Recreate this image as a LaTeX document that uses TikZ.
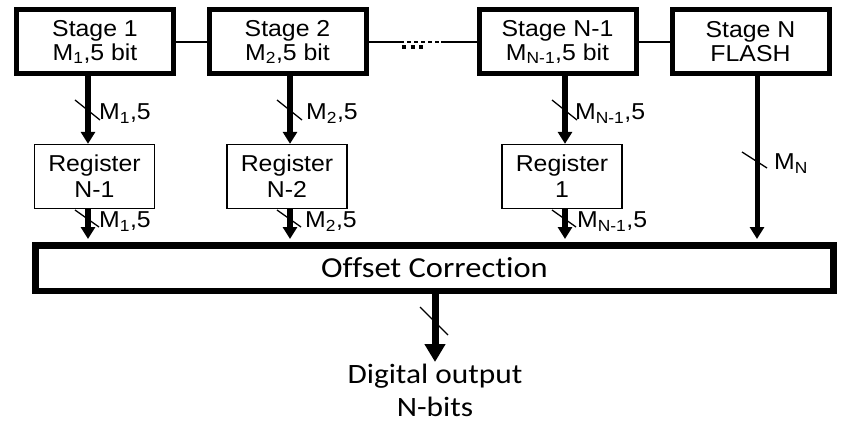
\documentclass[tikz,border=0pt]{standalone}
\usepackage{fontspec}
\setmainfont{Liberation Sans}[FakeStretch=1.08]
\newfontfamily\calfont{Carlito}[FakeStretch=1.12,Ligatures=NoCommon]
\usetikzlibrary{arrows.meta}

\begin{document}
\begin{tikzpicture}[x=1pt,y=-1pt,font=\fontsize{23}{24}\selectfont,
	stagebox/.style={draw,line width=5pt,minimum width=157pt,minimum height=64pt,align=center,inner sep=0pt},
	regbox/.style={draw,line width=1.3pt,minimum width=120pt,minimum height=64pt,align=center,inner sep=0pt,font=\fontsize{23}{26}\selectfont},
	bus/.style={line width=5.5pt,-{Triangle[width=14pt,length=12pt]}},
	tick/.style={line width=1.3pt},
	lbl/.style={anchor=base west,inner sep=0pt}]
	\useasboundingbox (0,0) rectangle (842,438);
	% pipeline stages
	\node[stagebox] (s1) at (95,42) {Stage 1\\M\textsubscript{1},5 bit};
	\node[stagebox] (s2) at (287.5,42) {Stage 2\\M\textsubscript{2},5 bit};
	\node[stagebox] (sN1) at (557.5,42) {Stage N-1\\M\textsubscript{N-1},5 bit};
	\node[stagebox] (sN) at (750.5,42) {Stage N\\FLASH};
	% registers
	\node[regbox] (r1) at (94.5,176.5) {Register\\N-1};
	\node[regbox] (r2) at (287,176.5) {Register\\N-2};
	\node[regbox] (r3) at (562,176.5) {Register\\1};
	\node[draw,line width=6.5pt,minimum width=798pt,minimum height=45.5pt,inner sep=0pt,font=\calfont\fontsize{29}{33}\selectfont] (off) at (434.5,268) {Offset Correction};
	\node[anchor=north,align=center,inner sep=2pt,font=\calfont\fontsize{28}{33}\selectfont] (out) at (435,362) {Digital output\\N-bits};
	% bus positions
	\coordinate (a1) at (88,0);
	\coordinate (a2) at (290,0);
	\coordinate (a3) at (565,0);
	\coordinate (a4) at (757,0);
	\coordinate (gapL) at (400,42);
	\coordinate (gapR) at (441,42);
	% chain between the stages
	\draw[line width=1.3pt] (s1)--(s2);
	\draw[line width=1.3pt] (s2.east)--(gapL);
	\draw[line width=1.3pt,dash pattern=on 4pt off 3pt] (gapL)--(gapR);
	\draw[line width=1.3pt] (gapR)--(sN1.west);
	\draw[line width=1.3pt] (sN1)--(sN);
	\draw[line width=3.5pt,dash pattern=on 4pt off 4.5pt] (402,47)--(424,47);
	% stage -> register
	\draw[bus] (s1.south -| a1)--(r1.north -| a1);
	\draw[bus] (s2.south -| a2)--(r2.north -| a2);
	\draw[bus] (sN1.south -| a3)--(r3.north -| a3);
	% register -> offset correction
	\draw[bus,shorten >=3pt] (r1.south -| a1)--(off.north -| a1);
	\draw[bus,shorten >=3pt] (r2.south -| a2)--(off.north -| a2);
	\draw[bus,shorten >=3pt] (r3.south -| a3)--(off.north -| a3);
	\draw[bus,line width=5pt,shorten >=3pt] (sN.south -| a4)--(off.north -| a4);
	\draw[line width=7pt,-{Triangle[width=20pt,length=18pt]}] (off.south -| out)--(out.north);
	% bus width marks
	\draw[tick] (75,100)--(100,120);
	\draw[tick] (277,100)--(302,120);
	\draw[tick] (552,100)--(577,120);
	\draw[tick] (75,210)--(99,227);
	\draw[tick] (277,210)--(301,227);
	\draw[tick] (552,210)--(576,227);
	\draw[tick] (742,152)--(767,168);
	\draw[tick] (420,307)--(448,335);
	\node[lbl] at (99,120) {M\textsubscript{1},5};
	\node[lbl] at (306,120) {M\textsubscript{2},5};
	\node[lbl] at (575,120) {M\textsubscript{N-1},5};
	\node[lbl] at (99,228) {M\textsubscript{1},5};
	\node[lbl] at (305,228) {M\textsubscript{2},5};
	\node[lbl] at (577,228) {M\textsubscript{N-1},5};
	\node[lbl] at (774,170) {M\textsubscript{N}};
\end{tikzpicture}
\end{document}
